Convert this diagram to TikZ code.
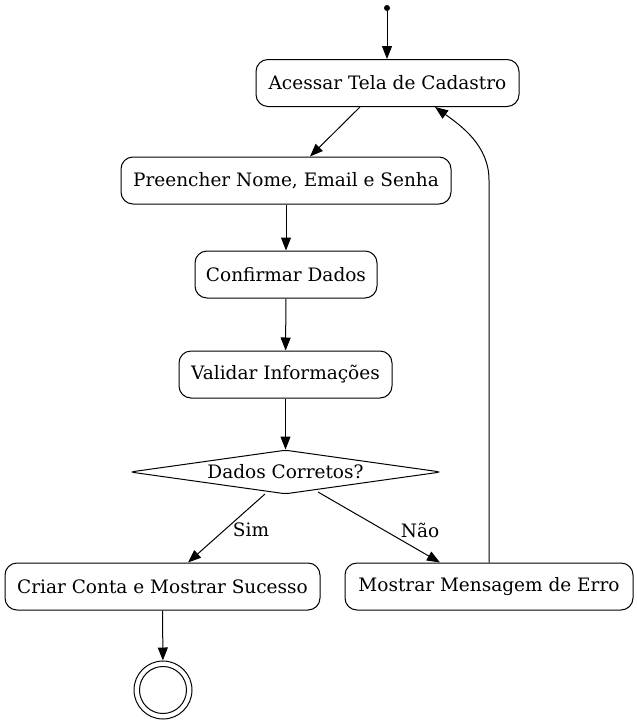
\documentclass[tikz,border=0pt]{standalone}
\usepackage{fontspec}
\setmainfont{DejaVu Serif}
\usetikzlibrary{arrows.meta,shapes.geometric}
\begin{document}
\begin{tikzpicture}[x=1pt,y=-1pt,
  act/.style={draw,line width=1pt,rounded corners=12pt,minimum height=47pt,inner xsep=10pt,font=\fontsize{18.5}{21}\selectfont},
  arr/.style={draw,line width=1pt,-{Triangle[length=13pt,width=10pt]}},
  lbl/.style={font=\fontsize{18.5}{21}\selectfont}]
\useasboundingbox (0,0) rectangle (637,726);
\node[circle,fill,inner sep=0,minimum size=6pt] (start) at (387,8) {};
\node[act,minimum width=263pt] (a) at (387.5,83) {Acessar Tela de Cadastro};
\node[act,minimum width=330pt] (p) at (286,180.5) {Preencher Nome, Email e Senha};
\node[act,minimum width=182pt] (c) at (286,274.5) {Confirmar Dados};
\node[act,minimum width=213pt] (v) at (285.5,374.5) {Validar Informações};
\node[diamond,draw,line width=1pt,aspect=7,inner sep=0,minimum width=311pt,minimum height=44pt,rounded corners=4pt,font=\fontsize{18.5}{21}\selectfont] (d) at (285.5,472) {Dados Corretos?};
\node[act,minimum width=315pt] (s) at (162.5,586.5) {Criar Conta e Mostrar Sucesso};
\node[act,minimum width=288pt] (e) at (489,586.5) {Mostrar Mensagem de Erro};
\node[circle,draw,line width=1pt,minimum size=58pt,inner sep=0] (f) at (163,690) {};
\node[circle,draw,line width=1pt,minimum size=47pt,inner sep=0] (fi) at (163,690) {};
\path[arr] (start) -- (a.north -| start);
\path[arr] (a.south -| 360,0) -- (p.north -| 310,0);
\path[arr] (p) -- (c);
\path[arr] (c) -- (v);
\path[arr] (v) -- (d);
\coordinate (ds) at (265,494);
\coordinate (dn) at (318,492);
\node[lbl] (ls) at (251,530) {Sim};
\node[lbl] (ln) at (420,530) {Não};
\path[arr] (ds) -- (s.north -| 188,0);
\path[arr] (dn) -- (e.north -| 440,0);
\path[arr] (e.north) -- (489,180) .. controls (489,145) and (460,125) .. (a.south -| 435,0);
\path[arr] (s) -- (f);
\end{tikzpicture}
\end{document}
